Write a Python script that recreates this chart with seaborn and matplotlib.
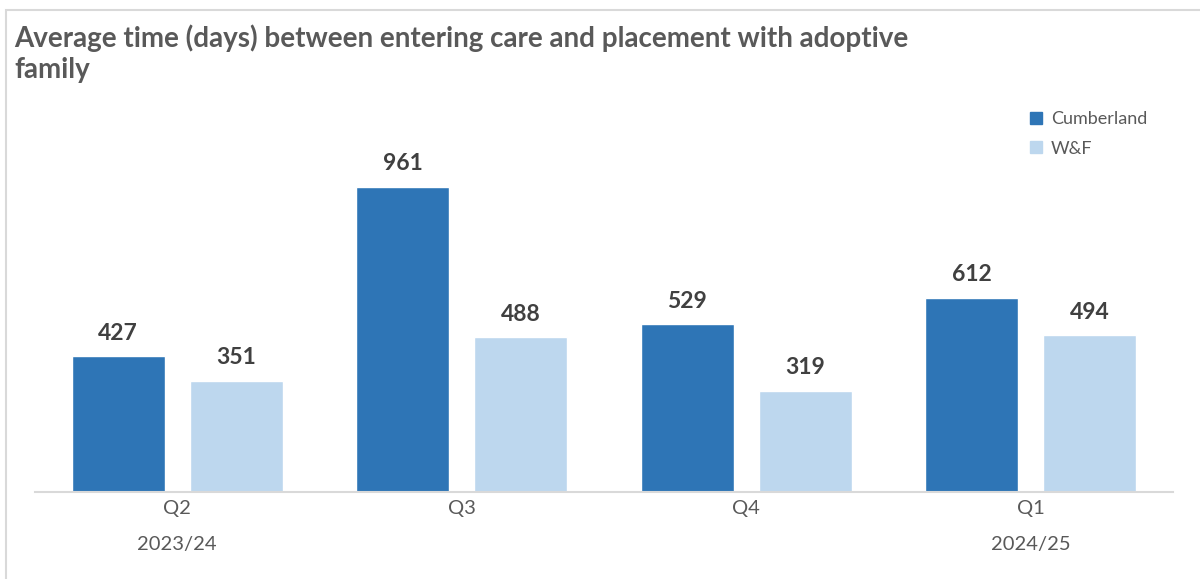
import matplotlib
matplotlib.use("Agg")
import matplotlib.pyplot as plt
from matplotlib.patches import Rectangle
from matplotlib.lines import Line2D
import seaborn as sns
import pandas as pd

quarters = ["Q2\n2023/24", "Q3", "Q4", "Q1\n2024/25"]
cumberland = [427, 961, 529, 612]
wf = [351, 488, 319, 494]
series_names = ["Cumberland", "W&F"]
colors = ["#2E75B6", "#BDD7EE"]

df = pd.DataFrame({
    "quarter": quarters * 2,
    "days": cumberland + wf,
    "area": [series_names[0]] * 4 + [series_names[1]] * 4,
})

sns.set_theme(style="white")
plt.rcParams["font.family"] = ["Lato", "DejaVu Sans"]

W, H = 1200, 579
fig = plt.figure(figsize=(W / 100, H / 100), dpi=100)
ax = fig.add_axes([35 / W, (H - 492) / H, (1173 - 35) / W, (492 - 100) / H])

sns.barplot(data=df, x="quarter", y="days", hue="area", palette=colors,
            width=0.83, gap=0.212, saturation=1, ax=ax, legend=False)

ax.set_ylim(0, 392 / (305 / 961))
ax.set_xlim(-0.5, 3.5)
for s in ["top", "right", "left"]:
    ax.spines[s].set_visible(False)
ax.spines["bottom"].set_color("#D9D9D9")
ax.spines["bottom"].set_linewidth(1.5)
ax.set_yticks([])
ax.set_xlabel("")
ax.set_ylabel("")
ax.set_xticks(range(len(quarters)))
ax.set_xticklabels(quarters, linespacing=2.35)
ax.tick_params(axis="x", length=0, pad=6, labelsize=14.5, labelcolor="#595959")

for cont in ax.containers:
    ax.bar_label(cont, fmt="%d", padding=9, fontsize=16.5, fontweight="bold",
                 color="#404040")

# Chart frame
fig.add_artist(Rectangle((6 / W, -0.1), 1.2, 1 - 10 / H + 0.1,
                         transform=fig.transFigure, fill=False,
                         edgecolor="#D9D9D9", linewidth=1.5))

fig.text(14 / W, 1 - 24 / H,
         "Average time (days) between entering care and placement with adoptive\nfamily",
         fontsize=20, fontweight="bold", color="#595959", ha="left",
         va="top", linespacing=1.28)

handles = [Line2D([], [], marker="s", linestyle="", markersize=8,
                  markerfacecolor=c, markeredgecolor=c) for c in colors]
fig.legend(handles, series_names, loc="upper left",
           bbox_to_anchor=(1020 / W, 1 - 104 / H), frameon=False,
           fontsize=13, labelcolor="#595959", handletextpad=0.3,
           labelspacing=0.75, handlelength=1.0, borderaxespad=0)

fig.savefig("out.png", dpi=100)
